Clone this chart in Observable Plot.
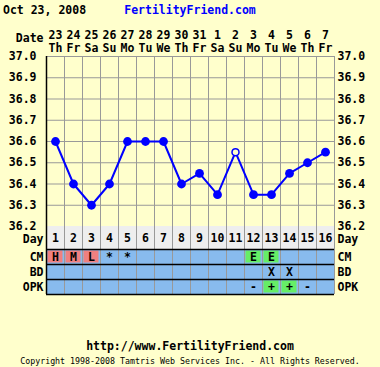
<!DOCTYPE html>
<html><head><meta charset="utf-8">
<script src="https://cdn.jsdelivr.net/npm/d3@7"></script>
<script src="https://cdn.jsdelivr.net/npm/@observablehq/plot@0.6"></script>
<style>
html,body{margin:0;padding:0;background:#ffffcc;}
#c{position:relative;width:380px;height:367px;background:#ffffcc;overflow:hidden;font-family:"DejaVu Sans Mono",monospace;font-weight:bold;}
#c > div.p{position:absolute;left:0;}
.t{position:absolute;white-space:nowrap;}
</style></head>
<body><div id="c">
<div class="t" style="left:3px;top:3px;font-size:11.5px;color:#000">Oct 23, 2008</div>
<div class="t" style="left:0;width:380px;text-align:center;top:3px;font-size:11.5px;color:#0000ff">FertilityFriend.com</div>
<div class="t" style="left:0;width:380px;text-align:center;top:339px;font-size:11.5px;color:#000">http://www.FertilityFriend.com</div>
<div class="t" style="left:0;width:380px;text-align:center;top:356px;font-size:8.3px;font-weight:normal;color:#000">Copyright 1998-2008 Tamtris Web Services Inc. - All Rights Reserved.</div>
</div>
<script>
// ---- data ----
const days = [1,2,3,4,5,6,7,8,9,10,11,12,13,14,15,16];
const dates = ["23","24","25","26","27","28","29","30","31","1","2","3","4","5","6","7"];
const weekdays = ["Th","Fr","Sa","Su","Mo","Tu","We","Th","Fr","Sa","Su","Mo","Tu","We","Th","Fr"];
const temps = [36.6,36.4,36.3,36.4,36.6,36.6,36.6,36.4,36.45,36.35,36.55,36.35,36.35,36.45,36.5,36.55];
const openDays = [11];
const tempTicks = [36.2,36.3,36.4,36.5,36.6,36.7,36.8,36.9,37.0];
const rowNames = ["CM","BD","OPK"];
const cmDays = [1,2,3,4,5,12,13];
const cmLabels = ["H","M","L","*","*","E","E"];
const bdDays = [13,14];
const bdLabels = ["X","X"];
const opkDays = [12,13,14,15];
const opkLabels = ["-","+","+","-"];

const font = "DejaVu Sans Mono";
const c = document.getElementById("c");
const bounds = d3.range(0.5, days.length + 1, 1);
const xDom = [0.5, days.length + 0.5];
function place(el, top){ const d=document.createElement("div"); d.className="p"; d.style.top=top+"px"; d.appendChild(el); c.appendChild(d); }
const baseStyle = {background:"transparent", fontFamily:font, fontWeight:"bold", fontSize:"11.5px", color:"black", overflow:"visible"};

// ---- temperature chart ----
const pts = days.map((d,i)=>({day:d, temp:temps[i], open: openDays.includes(d)}));
const p1 = Plot.plot({
  width:380, height:227, marginLeft:46, marginRight:46, marginTop:56, marginBottom:1,
  style: baseStyle,
  x:{domain:xDom, axis:null},
  y:{domain:[36.2,37.0], axis:null},
  marks:[
    Plot.ruleY(tempTicks, {stroke:"#999999", strokeWidth:1}),
    Plot.ruleX(bounds, {stroke:"#999999", strokeWidth:1}),
    Plot.ruleX([0.5], {stroke:"black", strokeWidth:1.5}),
    Plot.axisX(days, {anchor:"top", tickSize:0, tickPadding:5, label:null, lineHeight:1.13,
      tickFormat: d => dates[d-1] + "\n" + weekdays[d-1], fontWeight:"bold"}),
    Plot.axisY(tempTicks, {anchor:"left", tickSize:0, tickPadding:10, label:null, tickFormat:d3.format(".1f")}),
    Plot.axisY(tempTicks, {anchor:"right", tickSize:0, tickPadding:3, label:null, tickFormat:d3.format(".1f")}),
    Plot.line(pts, {x:"day", y:"temp", stroke:"#0000ff", strokeWidth:2}),
    Plot.dot(pts.filter(p=>!p.open), {x:"day", y:"temp", r:4.4, fill:"#0000ff", stroke:"none"}),
    Plot.dot(pts.filter(p=>p.open), {x:"day", y:"temp", r:3.5, fill:"#ffffcc", stroke:"#0000ff", strokeWidth:1.5}),
    Plot.text(["Date"], {frameAnchor:"top-left", text:d=>d, dx:-3, dy:-18, lineAnchor:"middle", textAnchor:"end", fontWeight:"bold"})
  ]
});
place(p1, 0);

// ---- Day row ----
const p2 = Plot.plot({
  width:380, height:23, marginLeft:46, marginRight:46, marginTop:0, marginBottom:0,
  style: baseStyle,
  x:{domain:xDom, axis:null},
  y:{domain:[0,1], axis:null},
  marks:[
    Plot.rect(days, {x1:d=>d-0.5, x2:d=>d+0.5, y1:0, y2:1, fill:"#eeeeee"}),
    Plot.ruleX(bounds, {stroke:"#999999", strokeWidth:1}),
    Plot.ruleX([0.5], {stroke:"black", strokeWidth:1.5}),
    Plot.text(days, {x:d=>d, y:0.5, text:d=>String(d), fontWeight:"bold", fontSize:11.5}),
    Plot.axisY([0.5], {anchor:"left", tickSize:0, tickPadding:3, dy:1.5, label:null, tickFormat:()=>"Day"}),
    Plot.axisY([0.5], {anchor:"right", tickSize:0, tickPadding:3, dy:1.5, label:null, tickFormat:()=>"Day"})
  ]
});
place(p2, 226);

// ---- signs rows ----
const cells = [];
cmDays.forEach((d,i)=>cells.push({day:d, row:0, label:cmLabels[i]}));
bdDays.forEach((d,i)=>cells.push({day:d, row:1, label:bdLabels[i]}));
opkDays.forEach((d,i)=>cells.push({day:d, row:2, label:opkLabels[i]}));
const fillFor = l => ("HML".includes(l) ? "#f08080" : (l==="E"||l==="+") ? "#66ee66" : null);
const bg = [];
rowNames.forEach((r,ri)=>days.forEach(d=>bg.push({day:d,row:ri})));
const p3 = Plot.plot({
  width:380, height:47, marginLeft:46, marginRight:46, marginTop:1, marginBottom:1,
  style: baseStyle,
  x:{domain:xDom, axis:null},
  y:{domain:[0,rowNames.length], reverse:true, axis:null},
  marks:[
    Plot.rect(bg, {x1:d=>d.day-0.5, x2:d=>d.day+0.5, y1:d=>d.row, y2:d=>d.row+1, fill:"#88bbee"}),
    Plot.rect(cells.filter(d=>fillFor(d.label)), {x1:d=>d.day-0.5, x2:d=>d.day+0.5, y1:d=>d.row, y2:d=>d.row+1, fill:d=>fillFor(d.label), inset:1.5}),
    Plot.ruleX(bounds, {stroke:"#999999", strokeWidth:1}),
    Plot.ruleY(d3.range(0, rowNames.length+1), {stroke:"black", strokeWidth:1.5}),
    Plot.ruleX([0.5], {stroke:"black", strokeWidth:1.5}),
    Plot.text(cells, {x:"day", y:d=>d.row+0.5, text:"label", fontWeight:d=>d.label==="X"?"normal":"bold", fontSize:11.5}),
    Plot.axisY(rowNames.map((r,i)=>i+0.5), {anchor:"left", tickSize:0, tickPadding:3, label:null, tickFormat:(d,i)=>rowNames[Math.floor(d)]}),
    Plot.axisY(rowNames.map((r,i)=>i+0.5), {anchor:"right", tickSize:0, tickPadding:3, label:null, tickFormat:(d,i)=>rowNames[Math.floor(d)]})
  ]
});
place(p3, 248);
</script></body></html>
